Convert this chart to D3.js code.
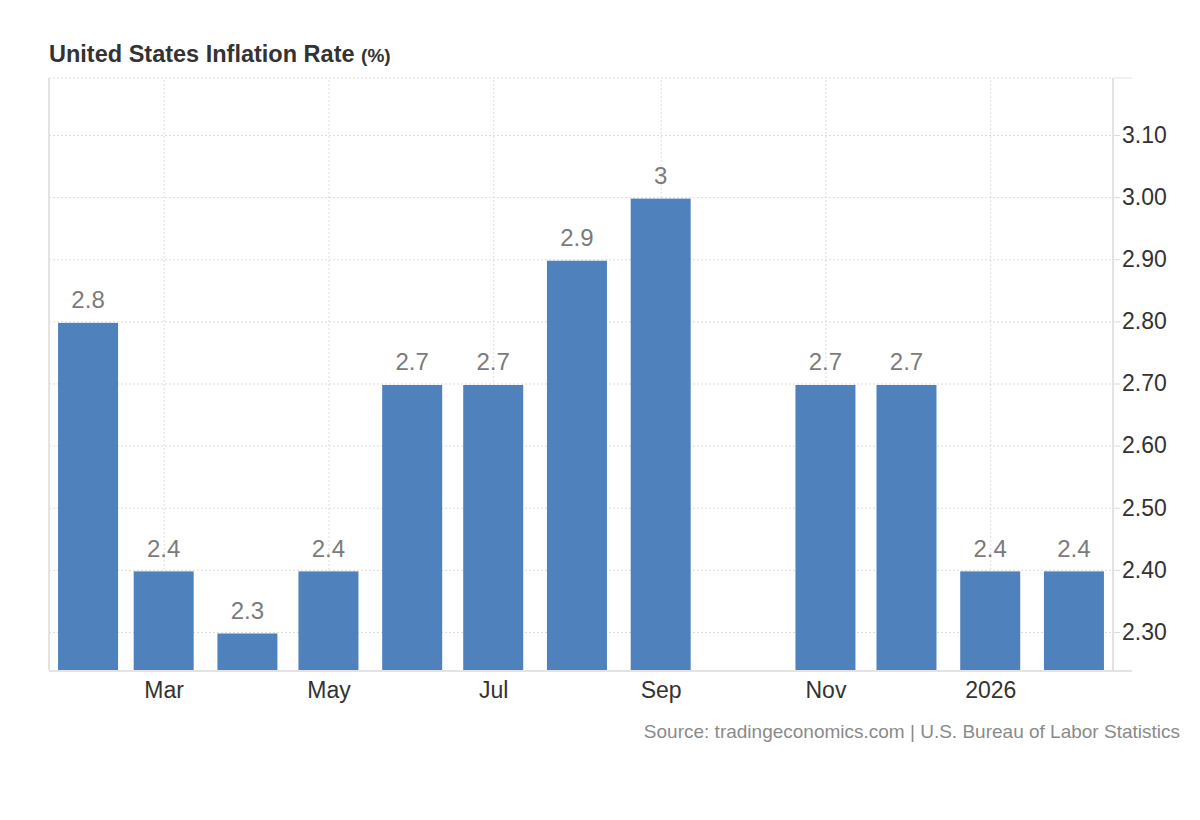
<!DOCTYPE html>
<html>
<head>
<meta charset="utf-8">
<script src="https://cdn.jsdelivr.net/npm/d3@7"></script>
<style>
  body { margin: 0; background: #fff; font-family: "Liberation Sans", Arial, sans-serif; }
  .grid line { stroke: #dcdcdc; stroke-dasharray: 2,2; }
  .grid path { display: none; }
</style>
</head>
<body>
<svg width="1200" height="820"></svg>
<script>
// monthly readings, Oct 2025 has no release
var months = ["2025-02", "2025-03", "2025-04", "2025-05", "2025-06", "2025-07",
              "2025-08", "2025-09", "2025-10", "2025-11", "2025-12", "2026-01", "2026-02"];
var values = [2.8, 2.4, 2.3, 2.4, 2.7, 2.7, 2.9, 3.0, null, 2.7, 2.7, 2.4, 2.4];

var xTickMonths = ["2025-03", "2025-05", "2025-07", "2025-09", "2025-11", "2026-01"];
var xTickLabels = ["Mar", "May", "Jul", "Sep", "Nov", "2026"];
var yTicks = [2.3, 2.4, 2.5, 2.6, 2.7, 2.8, 2.9, 3.0, 3.1];

var parseMonth = d3.timeParse("%Y-%m");
var data = months.map(function(m, i) {
  return { date: parseMonth(m), value: values[i] };
});

var svg = d3.select("svg");

var margin = { top: 78, left: 49, right: 1113, bottom: 670 };

// bars sit on the first of each month
var x = d3.scaleTime()
  .domain([d3.timeHour.offset(parseMonth("2025-02"), -347),
           d3.timeHour.offset(parseMonth("2026-02"), 347)])
  .range([margin.left, margin.right]);

var y = d3.scaleLinear()
  .domain([2.2388, 3.1917])
  .range([margin.bottom, margin.top]);

var barWidth = 60;

// title
var title = svg.append("text")
  .attr("x", 49)
  .attr("y", 62)
  .attr("font-size", 23.5)
  .attr("font-weight", "bold")
  .attr("fill", "#333");
title.append("tspan").text("United States Inflation Rate ");
title.append("tspan").attr("font-size", 19).text("(%)");

// gridlines
svg.append("g")
  .attr("class", "grid")
  .attr("transform", "translate(0," + margin.bottom + ")")
  .call(d3.axisBottom(x)
    .tickValues(xTickMonths.map(parseMonth))
    .tickSize(-(margin.bottom - margin.top))
    .tickFormat(""));

svg.append("g")
  .attr("class", "grid")
  .attr("transform", "translate(" + margin.left + ",0)")
  .call(d3.axisRight(y)
    .tickValues(yTicks)
    .tickSize(margin.right - margin.left)
    .tickFormat(""));

// top dotted border
svg.append("line")
  .attr("x1", margin.left).attr("x2", margin.right)
  .attr("y1", margin.top).attr("y2", margin.top)
  .attr("stroke", "#dcdcdc")
  .attr("stroke-dasharray", "2,2");

// left border
svg.append("line")
  .attr("x1", margin.left).attr("x2", margin.left)
  .attr("y1", margin.top).attr("y2", margin.bottom)
  .attr("stroke", "#e3e3e3")
  .attr("stroke-width", 2);

// bars
var bars = data.filter(function(d) { return d.value != null; });

svg.selectAll("rect.bar")
  .data(bars)
  .enter()
  .append("rect")
  .attr("class", "bar")
  .attr("x", function(d) { return x(d.date) - barWidth / 2; })
  .attr("y", function(d) { return y(d.value) + 1.5; })
  .attr("width", barWidth)
  .attr("height", function(d) { return margin.bottom - y(d.value) - 1.5; })
  .attr("fill", "#4f81bd");

svg.selectAll("text.val")
  .data(bars)
  .enter()
  .append("text")
  .attr("class", "val")
  .attr("x", function(d) { return x(d.date); })
  .attr("y", function(d) { return y(d.value) - 13; })
  .attr("text-anchor", "middle")
  .attr("font-size", 24)
  .attr("fill", "#7b7b7b")
  .text(function(d) { return d3.format("")(d.value); });

// right axis
var yAxis = svg.append("g")
  .attr("transform", "translate(" + margin.right + ",0)")
  .call(d3.axisRight(y)
    .tickValues(yTicks)
    .tickSize(7)
    .tickPadding(2)
    .tickFormat(d3.format(".2f")));
yAxis.select(".domain").remove();
yAxis.selectAll(".tick line").attr("stroke", "#dcdcdc");
yAxis.selectAll(".tick text")
  .attr("font-size", 23)
  .attr("font-family", "Liberation Sans, Arial, sans-serif")
  .attr("fill", "#333");

svg.append("line")
  .attr("x1", margin.right).attr("x2", margin.right)
  .attr("y1", margin.top).attr("y2", margin.bottom)
  .attr("stroke", "#e3e3e3")
  .attr("stroke-width", 2);
svg.append("line")
  .attr("x1", margin.right).attr("x2", 1132)
  .attr("y1", margin.top).attr("y2", margin.top)
  .attr("stroke", "#e3e3e3");

// bottom axis
var xAxis = svg.append("g")
  .attr("transform", "translate(0," + margin.bottom + ")")
  .call(d3.axisBottom(x)
    .tickValues(xTickMonths.map(parseMonth))
    .tickSize(0)
    .tickPadding(12)
    .tickFormat(function(d, i) { return xTickLabels[i]; }));
xAxis.select(".domain").remove();
xAxis.selectAll(".tick text")
  .attr("font-size", 23)
  .attr("font-family", "Liberation Sans, Arial, sans-serif")
  .attr("fill", "#333");

svg.append("line")
  .attr("x1", margin.left).attr("x2", 1132)
  .attr("y1", margin.bottom + 1).attr("y2", margin.bottom + 1)
  .attr("stroke", "#e3e3e3")
  .attr("stroke-width", 2);

// source
svg.append("text")
  .attr("x", 1180)
  .attr("y", 738)
  .attr("text-anchor", "end")
  .attr("font-size", 19)
  .attr("fill", "#8a8a8a")
  .text("Source: tradingeconomics.com | U.S. Bureau of Labor Statistics");
</script>
</body>
</html>
